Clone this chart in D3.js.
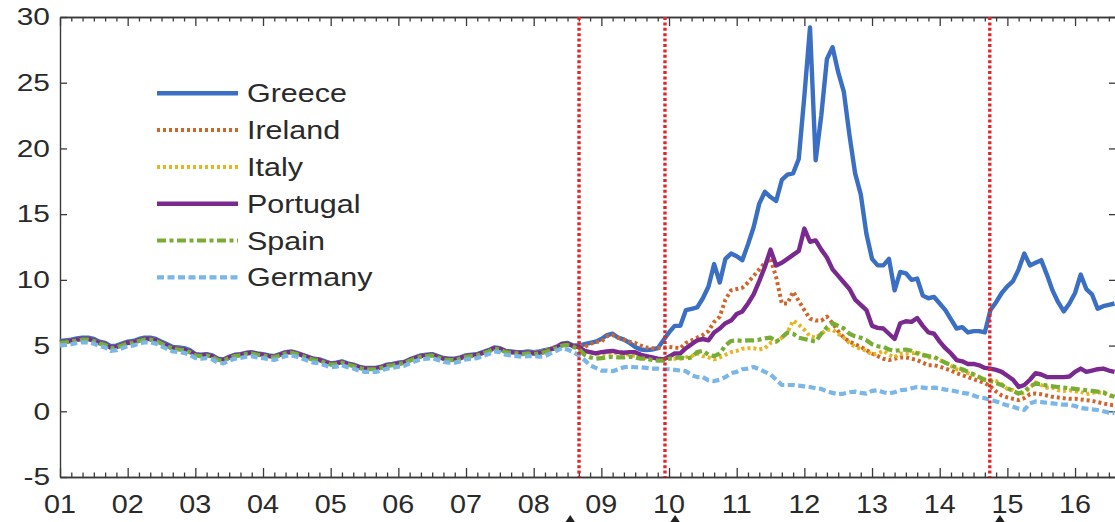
<!DOCTYPE html>
<html>
<head>
<meta charset="utf-8">
<script src="https://cdn.jsdelivr.net/npm/d3@7"></script>
<style>
  body { margin: 0; background: #fff; }
  svg { display: block; }
  text { font-family: "Liberation Sans", Arial, Helvetica, sans-serif; fill: #2a2a2a; }
</style>
</head>
<body>
<svg id="chart" width="1115" height="522"></svg>
<script>
// Ten-year government bond yields (%), monthly, Jan 2001 – Aug 2016
const firstYear = 2001;
const yearLabels = ["01","02","03","04","05","06","07","08","09","10","11","12","13","14","15","16"];
const yTicks = [-5, 0, 5, 10, 15, 20, 25, 30];

const greece = [
  5.35,5.4,5.45,5.55,5.6,5.6,5.5,5.3,5.2,4.95,5.0,5.15,
  5.3,5.35,5.5,5.6,5.6,5.5,5.3,5.1,4.9,4.85,4.8,4.65,
  4.35,4.3,4.35,4.25,4.0,3.95,4.15,4.3,4.35,4.45,4.5,4.4,
  4.35,4.25,4.2,4.35,4.5,4.55,4.45,4.3,4.15,4.0,3.95,3.8,
  3.65,3.7,3.8,3.65,3.55,3.4,3.3,3.3,3.3,3.4,3.55,3.6,
  3.7,3.75,3.95,4.1,4.25,4.3,4.35,4.2,4.05,4.0,4.0,4.1,
  4.25,4.3,4.35,4.5,4.65,4.85,4.8,4.6,4.55,4.5,4.5,4.55,
  4.5,4.55,4.65,4.75,4.9,5.15,5.2,5.0,5.0,5.1,5.2,5.3,
  5.5,5.8,5.9,5.6,5.45,5.2,4.9,4.7,4.65,4.7,4.8,5.4,
  6.0,6.5,6.5,7.7,7.8,7.9,8.6,9.5,11.2,9.8,11.6,12.0,
  11.8,11.5,12.7,14.0,15.8,16.7,16.3,16.0,17.6,18.0,18.1,19.2,
  24.0,29.2,19.1,22.5,26.8,27.7,25.8,24.3,21.0,18.1,16.5,13.5,
  11.6,11.1,11.1,11.6,9.2,10.6,10.5,10.0,10.1,8.8,8.6,8.7,
  8.2,7.7,7.0,6.3,6.4,6.0,6.1,6.1,6.0,7.7,8.3,9.0,
  9.5,9.9,10.8,12.0,11.1,11.3,11.5,10.4,9.2,8.3,7.6,8.2,
  9.0,10.4,9.3,8.9,7.8,8.0,8.1,8.2
];

const ireland = [
  5.25,5.3,5.35,5.45,5.5,5.5,5.4,5.2,5.1,4.85,4.9,5.05,
  5.2,5.25,5.4,5.5,5.5,5.4,5.2,5.0,4.8,4.75,4.7,4.55,
  4.3,4.25,4.3,4.2,3.95,3.9,4.1,4.25,4.3,4.4,4.45,4.35,
  4.3,4.2,4.15,4.3,4.45,4.5,4.4,4.25,4.1,3.95,3.9,3.75,
  3.6,3.65,3.75,3.6,3.5,3.35,3.25,3.25,3.25,3.35,3.5,3.55,
  3.65,3.7,3.9,4.05,4.2,4.25,4.3,4.15,4.0,3.95,3.95,4.05,
  4.2,4.25,4.3,4.45,4.6,4.8,4.75,4.55,4.5,4.45,4.4,4.45,
  4.4,4.45,4.55,4.7,4.85,5.1,5.15,4.95,5.0,4.9,5.1,5.3,
  5.3,5.7,5.8,5.6,5.45,5.3,5.2,5.0,4.85,4.8,4.8,4.85,
  4.9,4.85,4.8,5.2,5.4,5.6,5.8,6.1,6.8,7.2,8.5,9.2,
  9.3,9.4,9.8,10.3,10.8,11.3,11.6,10.2,8.2,8.2,9.1,8.4,
  7.7,7.05,6.9,6.9,7.2,6.7,6.1,5.6,5.3,5.1,4.9,4.65,
  4.4,4.2,4.0,3.9,4.0,4.1,4.1,4.0,3.9,3.7,3.5,3.5,
  3.4,3.25,3.1,2.9,2.75,2.6,2.45,2.3,2.15,1.9,1.5,1.2,
  1.05,0.95,0.85,1.0,1.3,1.35,1.3,1.2,1.1,1.05,1.0,0.95,
  0.95,0.9,0.85,0.8,0.7,0.6,0.5,0.45
];

const italy = [
  5.25,5.3,5.35,5.45,5.5,5.5,5.4,5.2,5.1,4.85,4.9,5.05,
  5.2,5.25,5.4,5.5,5.5,5.4,5.2,5.0,4.8,4.75,4.7,4.55,
  4.3,4.25,4.3,4.2,3.95,3.9,4.1,4.25,4.3,4.4,4.45,4.35,
  4.3,4.2,4.15,4.3,4.45,4.5,4.4,4.25,4.1,3.95,3.9,3.75,
  3.6,3.65,3.75,3.6,3.5,3.35,3.25,3.25,3.25,3.35,3.5,3.55,
  3.65,3.7,3.9,4.05,4.2,4.25,4.3,4.15,4.0,3.95,3.95,4.05,
  4.2,4.25,4.3,4.45,4.6,4.8,4.75,4.55,4.5,4.45,4.4,4.45,
  4.45,4.5,4.6,4.75,4.9,5.1,5.15,4.95,4.8,4.6,4.5,4.4,
  4.35,4.4,4.5,4.4,4.35,4.3,4.2,4.1,4.05,4.0,3.95,3.9,
  4.0,4.0,4.0,4.1,4.2,4.4,4.2,4.1,3.95,4.1,4.3,4.5,
  4.6,4.75,4.8,4.8,4.7,4.8,5.2,5.3,5.6,6.0,6.9,6.6,
  6.2,5.7,5.6,5.9,6.2,6.2,5.9,5.6,5.2,4.9,4.75,4.6,
  4.3,4.4,4.6,4.3,4.1,4.4,4.4,4.4,4.5,4.25,4.1,4.1,
  3.9,3.7,3.45,3.2,3.1,2.9,2.8,2.6,2.4,2.4,2.3,2.05,
  1.7,1.6,1.3,1.4,1.8,2.2,2.0,1.8,1.8,1.6,1.55,1.6,
  1.5,1.5,1.3,1.4,1.45,1.4,1.2,1.1
];

const portugal = [
  5.25,5.3,5.35,5.45,5.5,5.5,5.4,5.2,5.1,4.85,4.9,5.05,
  5.2,5.25,5.4,5.5,5.5,5.4,5.2,5.0,4.8,4.75,4.7,4.55,
  4.3,4.25,4.3,4.2,3.95,3.9,4.1,4.25,4.3,4.4,4.45,4.35,
  4.3,4.2,4.15,4.3,4.45,4.5,4.4,4.25,4.1,3.95,3.9,3.75,
  3.6,3.65,3.75,3.6,3.5,3.35,3.25,3.25,3.25,3.35,3.5,3.55,
  3.65,3.7,3.9,4.05,4.2,4.25,4.3,4.15,4.0,3.95,3.95,4.05,
  4.2,4.25,4.3,4.45,4.6,4.8,4.75,4.55,4.5,4.45,4.4,4.45,
  4.4,4.45,4.55,4.7,4.85,5.1,5.15,4.95,4.9,4.6,4.5,4.4,
  4.5,4.55,4.6,4.5,4.45,4.5,4.5,4.3,4.2,4.1,4.0,3.95,
  4.15,4.4,4.4,4.8,5.1,5.4,5.5,5.4,6.0,6.3,6.7,6.9,
  7.4,7.6,8.2,8.9,9.9,11.0,12.3,11.1,11.3,11.6,11.9,12.2,
  13.9,12.9,13.0,12.3,11.7,10.8,10.3,9.8,9.3,8.5,8.1,7.7,
  6.5,6.35,6.3,5.9,5.5,6.7,6.85,6.8,7.1,6.5,6.0,5.9,
  5.3,4.8,4.4,3.9,3.8,3.6,3.6,3.5,3.3,3.25,3.15,3.0,
  2.7,2.4,1.85,2.0,2.4,2.9,2.8,2.6,2.6,2.6,2.6,2.65,
  3.0,3.25,3.0,3.1,3.2,3.25,3.1,3.0
];

const spain = [
  5.2,5.25,5.3,5.4,5.45,5.45,5.35,5.15,5.05,4.8,4.85,5.0,
  5.15,5.2,5.35,5.45,5.45,5.35,5.15,4.95,4.75,4.7,4.65,4.5,
  4.25,4.2,4.25,4.15,3.9,3.85,4.05,4.2,4.25,4.35,4.4,4.3,
  4.25,4.15,4.1,4.25,4.4,4.45,4.35,4.2,4.05,3.9,3.85,3.7,
  3.55,3.6,3.7,3.55,3.45,3.3,3.2,3.2,3.2,3.3,3.45,3.5,
  3.6,3.65,3.85,4.0,4.15,4.2,4.25,4.1,3.95,3.9,3.9,4.0,
  4.15,4.2,4.25,4.4,4.55,4.75,4.7,4.5,4.45,4.4,4.35,4.4,
  4.35,4.4,4.5,4.65,4.8,5.0,5.05,4.9,4.75,4.3,4.1,4.0,
  4.05,4.1,4.15,4.1,4.1,4.15,4.1,4.0,4.0,3.9,3.85,3.85,
  4.0,4.05,4.1,4.0,4.1,4.5,4.6,4.3,4.2,4.4,5.0,5.35,
  5.4,5.35,5.4,5.4,5.45,5.55,5.6,5.3,5.6,6.0,5.9,5.6,
  5.5,5.4,5.3,5.9,6.4,6.7,6.5,6.3,5.9,5.7,5.6,5.4,
  5.1,4.95,4.9,4.7,4.6,4.65,4.7,4.6,4.4,4.3,4.2,4.15,
  3.9,3.7,3.5,3.3,3.2,3.0,2.8,2.6,2.4,2.3,2.15,2.0,
  1.75,1.55,1.35,1.5,1.9,2.1,2.05,1.95,1.9,1.85,1.8,1.75,
  1.7,1.65,1.6,1.55,1.5,1.45,1.25,1.1
];

const germany = [
  5.0,5.05,5.1,5.2,5.25,5.25,5.15,4.95,4.85,4.6,4.65,4.8,
  4.95,5.0,5.15,5.25,5.25,5.15,4.95,4.75,4.55,4.5,4.45,4.3,
  4.05,4.0,4.05,3.95,3.7,3.65,3.85,4.0,4.05,4.15,4.2,4.1,
  4.05,3.95,3.9,4.05,4.2,4.25,4.15,4.0,3.85,3.7,3.65,3.5,
  3.35,3.4,3.5,3.35,3.25,3.1,3.0,3.0,3.0,3.1,3.25,3.3,
  3.4,3.45,3.65,3.8,3.95,4.0,4.05,3.9,3.75,3.7,3.7,3.8,
  3.95,4.0,4.05,4.2,4.35,4.55,4.5,4.3,4.25,4.2,4.15,4.2,
  4.2,4.15,4.2,4.4,4.6,4.8,4.7,4.5,4.25,3.9,3.5,3.3,
  3.1,3.1,3.05,3.2,3.35,3.4,3.35,3.35,3.3,3.25,3.25,3.2,
  3.2,3.15,3.1,3.05,2.75,2.6,2.6,2.35,2.3,2.4,2.6,2.9,
  3.0,3.2,3.25,3.37,3.2,3.0,2.8,2.4,2.0,2.0,2.0,1.95,
  1.9,1.85,1.75,1.7,1.5,1.4,1.3,1.35,1.45,1.5,1.4,1.35,
  1.55,1.6,1.45,1.35,1.45,1.6,1.65,1.75,1.85,1.8,1.75,1.8,
  1.75,1.65,1.6,1.5,1.4,1.35,1.2,1.05,1.0,0.85,0.75,0.6,
  0.45,0.35,0.2,0.1,0.6,0.75,0.7,0.65,0.6,0.55,0.5,0.5,
  0.4,0.25,0.2,0.15,0.1,0.0,-0.1,-0.15
];

// Crisis events (vertical dotted lines) and arrow markers under the axis, in fractional years
const eventLines = [2008.67, 2009.94, 2014.74];
const eventMarkers = [2008.54, 2010.09, 2014.89];

const series = [
  { name: "Greece",   values: greece,   color: "#3b6fc4", width: 4.4, dash: null },
  { name: "Ireland",  values: ireland,  color: "#d0652a", width: 4,   dash: "3 3" },
  { name: "Italy",    values: italy,    color: "#e6b520", width: 4,   dash: "3 3" },
  { name: "Portugal", values: portugal, color: "#7a2a8e", width: 4.4, dash: null },
  { name: "Spain",    values: spain,    color: "#78ad34", width: 4.2, dash: "9 3.5 4 3.5" },
  { name: "Germany",  values: germany,  color: "#7ab6e6", width: 4.2, dash: "7 3.5" }
];

const svg = d3.select("#chart");
const plotLeft = 60, plotRight = 1116, plotTop = 17, plotBottom = 477;

const x = d3.scaleLinear().domain([firstYear, firstYear + (plotRight - plotLeft) / 67.67]).range([plotLeft, plotRight]);
const y = d3.scaleLinear().domain([-5, 30]).range([plotBottom, plotTop]);

const axisColor = "#3a3a3a";
const majorYears = yearLabels.map((_, i) => firstYear + i);
const minorTicks = d3.range(0, 16 * 6).map(k => firstYear + k / 6).filter(t => Math.abs(t - Math.round(t)) > 1e-6 && t < x.domain()[1]);

function styleAxis(g) {
  g.selectAll("path.domain").attr("stroke", axisColor).attr("stroke-width", 1.4);
  g.selectAll(".tick line").attr("stroke", axisColor).attr("stroke-width", 1.3);
  g.selectAll(".tick text").remove();
}

// Frame: bottom / top axes with inward major and minor ticks
svg.append("g").attr("transform", `translate(0,${plotBottom})`)
  .call(d3.axisBottom(x).tickValues(majorYears).tickSize(-9).tickSizeOuter(0)).call(styleAxis);
svg.append("g").attr("transform", `translate(0,${plotBottom})`)
  .call(d3.axisBottom(x).tickValues(minorTicks).tickSize(-4.5).tickSizeOuter(0)).call(styleAxis);
svg.append("g").attr("transform", `translate(0,${plotTop})`)
  .call(d3.axisTop(x).tickValues(majorYears).tickSize(-9).tickSizeOuter(0)).call(styleAxis);
svg.append("g").attr("transform", `translate(0,${plotTop})`)
  .call(d3.axisTop(x).tickValues(minorTicks).tickSize(-4.5).tickSizeOuter(0)).call(styleAxis);
svg.append("g").attr("transform", `translate(${plotLeft},0)`)
  .call(d3.axisLeft(y).tickValues(yTicks).tickSize(-7).tickSizeOuter(0)).call(styleAxis);
svg.append("g").attr("transform", `translate(${plotRight},0)`)
  .call(d3.axisRight(y).tickValues(yTicks).tickSize(-7).tickSizeOuter(0)).call(styleAxis);

// Tick labels
svg.append("g").selectAll("text").data(yTicks).join("text")
  .attr("transform", d => `translate(50,${y(d)}) scale(1.3,1)`)
  .attr("text-anchor", "end").attr("dy", "0.36em")
  .style("font-size", "23px").text(d => d);

svg.append("g").selectAll("text").data(yearLabels).join("text")
  .attr("transform", (d, i) => `translate(${x(firstYear + i)},513) scale(1.15,1)`)
  .attr("text-anchor", "middle")
  .style("font-size", "25px").text(d => d);

// Series lines
const line = d3.line().x((d, i) => x(firstYear + i / 12)).y(d => y(d));
const plot = svg.append("g");
series.forEach(s => {
  plot.append("path").datum(s.values)
    .attr("d", line).attr("fill", "none")
    .attr("stroke", s.color).attr("stroke-width", s.width)
    .attr("stroke-dasharray", s.dash)
    .attr("stroke-linejoin", "round");
});

// Event lines
svg.append("g").selectAll("line").data(eventLines).join("line")
  .attr("x1", d => x(d)).attr("x2", d => x(d))
  .attr("y1", plotTop).attr("y2", plotBottom)
  .attr("stroke", "#e0262c").attr("stroke-width", 3.4)
  .attr("stroke-dasharray", "3 2.4");

// Arrow markers below the axis
svg.append("g").selectAll("path").data(eventMarkers).join("path")
  .attr("d", d => `M${x(d)},515 L${x(d) - 6},524 L${x(d) + 6},524 Z`)
  .attr("fill", "#222");

// Legend
const legend = svg.append("g");
const legendRows = series.map((s, i) => ({ s, yPos: 93.3 + i * 36.8 }));
legend.selectAll("line").data(legendRows).join("line")
  .attr("x1", 157).attr("x2", 238)
  .attr("y1", d => d.yPos).attr("y2", d => d.yPos)
  .attr("stroke", d => d.s.color).attr("stroke-width", d => d.s.width)
  .attr("stroke-dasharray", d => d.s.dash);
legend.selectAll("text").data(legendRows).join("text")
  .attr("transform", d => `translate(247,${d.yPos}) scale(1.22,1)`)
  .attr("dy", "0.36em")
  .style("font-size", "25px").text(d => d.s.name);
</script>
</body>
</html>
